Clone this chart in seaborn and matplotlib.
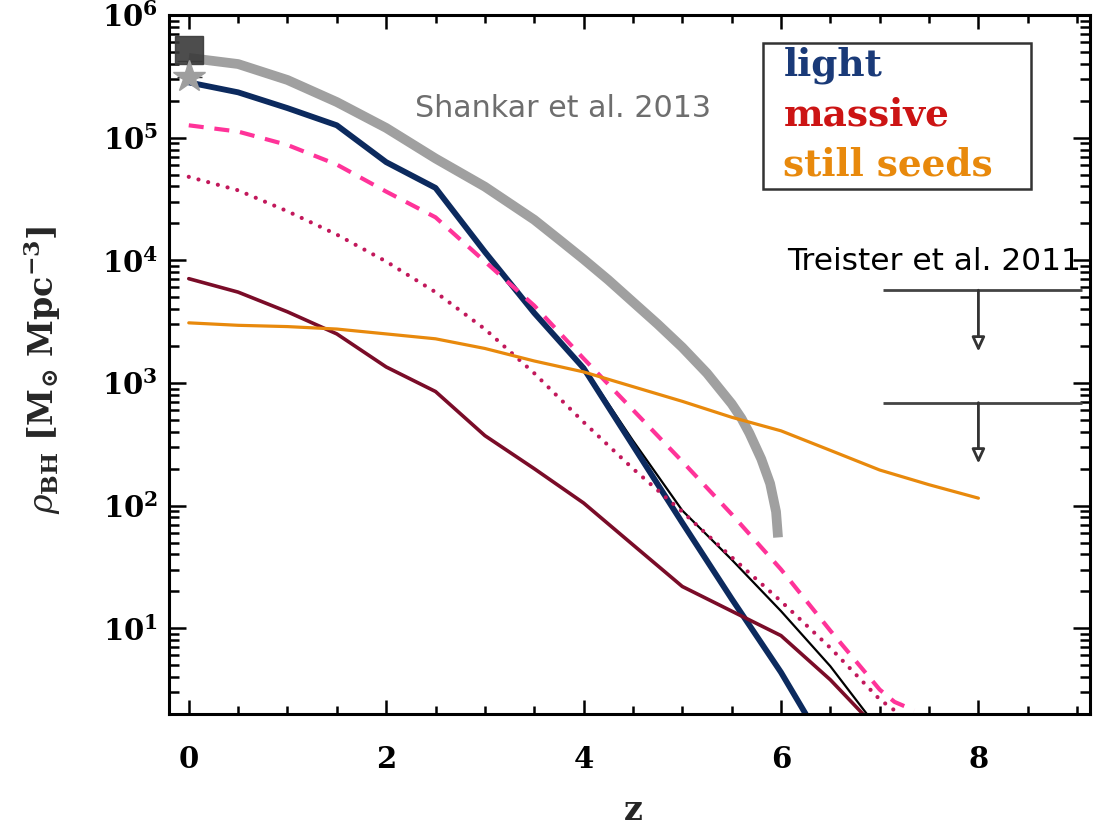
import numpy as np
import pandas as pd
import seaborn as sns
import matplotlib
matplotlib.use("Agg")
import matplotlib.pyplot as plt
from matplotlib.patches import Rectangle
from matplotlib.ticker import FixedLocator, MultipleLocator, LogLocator, FuncFormatter, NullFormatter

# ---------------- data ----------------
z_shankar = [0, 0.5, 1, 1.5, 2, 2.5, 3, 3.5, 3.75, 4, 4.25, 4.5, 4.75, 5, 5.25, 5.5,
             5.6, 5.68, 5.8, 5.89, 5.95, 5.97]
rho_shankar = [4.47e5, 3.98e5, 2.95e5, 1.95e5, 1.20e5, 6.76e4, 3.98e4, 2.14e4, 1.48e4,
               1.02e4, 6.92e3, 4.57e3, 3.02e3, 1.95e3, 1.20e3, 676, 513, 389, 240,
               151, 89, 55]

z_light = [0, 0.5, 1, 1.5, 2, 2.5, 3, 3.5, 4, 4.5, 5, 5.5, 6, 6.25]
rho_light = [2.82e5, 2.34e5, 1.74e5, 1.26e5, 6.31e4, 3.89e4, 1.17e4, 3.72e3, 1.32e3,
             309, 72.4, 17.4, 4.37, 2.0]

z_black = [4.0, 4.5, 5.0, 5.5, 6.0, 6.5, 6.87]
rho_black = [1350, 339, 91.2, 36.3, 13.8, 4.9, 2.0]

z_dashed = [0, 0.5, 1, 1.5, 2, 2.5, 3, 3.5, 4, 4.5, 5, 5.5, 6, 6.5, 7.0, 7.15, 7.35]
rho_dashed = [1.26e5, 1.12e5, 8.71e4, 6.03e4, 3.63e4, 2.24e4, 9.77e3, 4.27e3, 1.58e3,
              603, 229, 85.1, 30.2, 9.55, 3.16, 2.51, 2.14]

z_dotted = [0, 0.5, 1, 1.5, 2, 2.5, 3, 3.5, 4, 4.5, 5, 5.5, 6, 6.5, 7.0, 7.2]
rho_dotted = [4.79e4, 3.72e4, 2.51e4, 1.62e4, 9.77e3, 5.50e3, 2.75e3, 1.20e3, 479,
              200, 89.1, 38.0, 16.6, 6.92, 2.63, 2.0]

z_massive = [0, 0.5, 1, 1.5, 2, 2.5, 3, 3.5, 4, 4.5, 5, 5.5, 6, 6.5, 6.83]
rho_massive = [7.08e3, 5.50e3, 3.80e3, 2.51e3, 1.35e3, 851, 372, 200, 105, 47.9,
               21.9, 13.8, 8.71, 3.80, 2.0]

z_seeds = [0, 0.5, 1, 1.5, 2, 2.5, 3, 3.5, 4, 4.5, 5, 5.5, 6, 6.5, 7, 7.5, 8]
rho_seeds = [3.09e3, 2.95e3, 2.88e3, 2.75e3, 2.51e3, 2.29e3, 1.91e3, 1.51e3, 1.23e3,
             933, 708, 525, 407, 282, 195, 148, 115]

# local data points at z=0
z_local = [0.0, 0.0]
rho_local = [5.2e5, 3.1e5]

# Treister et al. 2011 upper limits
treister_z = 8.0
treister_zrange = [7.03, 9.05]
treister_limits = [5.7e3, 6.9e2]
treister_arrow_to = [1.8e3, 2.2e2]

legend_labels = ["light", "massive", "still seeds"]
legend_colors = ["#1a3a78", "#cc1414", "#e8890c"]

x_ticks = [0, 2, 4, 6, 8]

# ---------------- style ----------------
sns.set_theme(style="ticks")
plt.rcParams["font.family"] = ["DejaVu Sans"]
plt.rcParams["mathtext.fontset"] = "dejavuserif"

fig = plt.figure(figsize=(10.94, 8.31), dpi=100)
ax = fig.add_axes([0.1545, 0.1408, 0.8418, 0.8412])

def line(x, y, **kw):
    sns.lineplot(x=x, y=y, ax=ax, estimator=None, sort=False, legend=False, **kw)

line(z_shankar, rho_shankar, color="#a0a0a0", linewidth=7, solid_capstyle="butt",
     solid_joinstyle="round")
line(z_black, rho_black, color="black", linewidth=1.6)
line(z_light, rho_light, color="#0c2a5e", linewidth=4.2)
line(z_dashed, rho_dashed, color="#ff3399", linewidth=3, linestyle=(0, (3.6, 2.6)))
line(z_dotted, rho_dotted, color="#c2185b", linewidth=3, linestyle=(0, (0.01, 2.4)),
     dash_capstyle="round")
line(z_massive, rho_massive, color="#7a0c28", linewidth=2.6)
line(z_seeds, rho_seeds, color="#e8890c", linewidth=2.3)

# local points
ax.plot(z_local[0], rho_local[0], marker="s", markersize=20, color="#3a3a3a",
        alpha=0.9, zorder=5, linestyle="none")
ax.errorbar(z_local[1], rho_local[1], yerr=[[0], [rho_local[1] * 0.35]],
            fmt="*", markersize=24, color="#9e9e9e", ecolor="#3a3a3a",
            elinewidth=3, capsize=9, zorder=6)

# Treister upper limits
for lim, tip in zip(treister_limits, treister_arrow_to):
    ax.hlines(lim, treister_zrange[0], treister_zrange[1], color="#444444", linewidth=2)
    ax.annotate("", xy=(treister_z, tip), xytext=(treister_z, lim),
                arrowprops=dict(arrowstyle="-|>,head_length=0.7,head_width=0.32",
                                fc="white", ec="#333333", lw=2, shrinkA=0, shrinkB=0))

ax.text(2.29, 1.74e5, "Shankar et al. 2013", color="#6e6e6e", fontsize=21.7,
        ha="left", va="center")
ax.text(6.06, 9.8e3, "Treister et al. 2011", color="black", fontsize=22.5,
        ha="left", va="center")

# legend box
ax.add_patch(Rectangle((0.645, 0.751), 0.291, 0.209, transform=ax.transAxes,
                       fill=False, edgecolor="#333333", linewidth=1.8, zorder=10))
for lab, col, yy in zip(legend_labels, legend_colors, [0.928, 0.857, 0.785]):
    ax.text(0.667, yy, lab, color=col, transform=ax.transAxes, fontsize=27,
            fontfamily="DejaVu Serif", fontweight="bold", ha="left", va="center",
            zorder=11)

# axes
ax.set_yscale("log")
ax.set_xlim(-0.2, 9.13)
ax.set_ylim(2, 1e6)
ax.xaxis.set_major_locator(FixedLocator(x_ticks))
ax.xaxis.set_minor_locator(MultipleLocator(0.5))
ax.yaxis.set_major_locator(LogLocator(base=10, numticks=10))
ax.yaxis.set_minor_locator(LogLocator(base=10, subs=np.arange(2, 10), numticks=20))
ax.yaxis.set_minor_formatter(NullFormatter())
ax.yaxis.set_major_formatter(FuncFormatter(
    lambda v, p: r"$\mathbf{10^{%d}}$" % int(round(np.log10(v)))))
ax.xaxis.set_major_formatter(FuncFormatter(lambda v, p: "%d" % v))

ax.tick_params(axis="both", which="both", direction="in", top=True, right=True,
               colors="black", width=1.8)
ax.tick_params(axis="x", which="major", length=10, pad=22, labelsize=21)
ax.tick_params(axis="x", which="minor", length=6)
ax.tick_params(axis="y", which="major", length=12, pad=8, labelsize=21)
ax.tick_params(axis="y", which="minor", length=7)
for lab in ax.get_xticklabels():
    lab.set_fontfamily("DejaVu Serif")
    lab.set_fontweight("bold")

for sp in ax.spines.values():
    sp.set_linewidth(2.2)
    sp.set_color("black")

ax.set_xlabel("z", fontsize=24, fontfamily="DejaVu Serif", fontweight="bold")
ax.xaxis.set_label_coords(0.504, -0.115)
ax.set_ylabel(r"$\rho_{\mathbf{BH}}\ \mathbf{[M_{\odot}\ Mpc^{-3}]}$", fontsize=24)
ax.yaxis.set_label_coords(-0.115, 0.492)

ax.set_facecolor("white")
fig.patch.set_facecolor("white")
fig.savefig("out.png", dpi=100)
